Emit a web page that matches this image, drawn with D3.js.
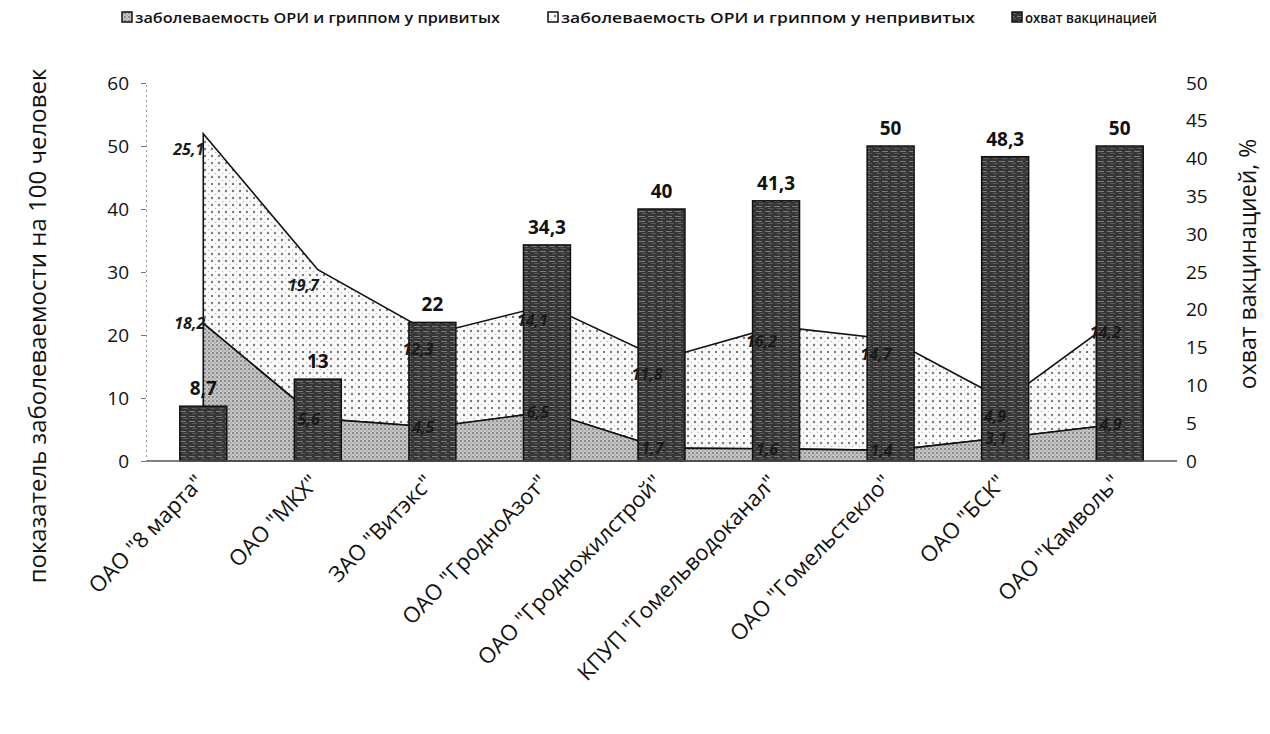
<!DOCTYPE html>
<html><head><meta charset="utf-8">
<script src="https://cdn.jsdelivr.net/npm/d3@7"></script>
<style>
html,body{margin:0;padding:0;background:#fff;}
svg{display:block;font-family:"Open Sans","Noto Sans",sans-serif;}
</style></head>
<body>
<svg id="chart" width="1270" height="734"></svg>
<script>
const categories = ['ОАО "8 марта"','ОАО "МКХ"','ЗАО "Витэкс"','ОАО "ГродноАзот"','ОАО "Гродножилстрой"','КПУП "Гомельводоканал"','ОАО "Гомельстекло"','ОАО "БСК"','ОАО "Камволь"'];
const vaccinated = [18.2, 5.6, 4.5, 6.5, 1.7, 1.6, 1.4, 3.1, 4.9];
const unvaccinated = [25.1, 19.7, 12.3, 14.1, 11.8, 16.2, 14.7, 4.9, 14.2];
const coverage = [8.7, 13, 22, 34.3, 40, 41.3, 50, 48.3, 50];
const leftTicks = [0, 10, 20, 30, 40, 50, 60];
const rightTicks = [0, 5, 10, 15, 20, 25, 30, 35, 40, 45, 50];
const seriesNames = ["заболеваемость ОРИ и гриппом у привитых","заболеваемость ОРИ и гриппом у непривитых","охват вакцинацией"];
const leftTitle = "показатель заболеваемости на 100 человек";
const rightTitle = "охват вакцинацией, %";

const svg = d3.select("#chart");
const defs = svg.append("defs");

// patterns
const pU = defs.append("pattern").attr("id","pUn").attr("patternUnits","userSpaceOnUse").attr("width",7).attr("height",7);
pU.append("rect").attr("width",7).attr("height",7).attr("fill","#fbfbfb");
pU.append("circle").attr("cx",2).attr("cy",2).attr("r",1.2).attr("fill","#7a7a7a");
pU.append("circle").attr("cx",5.5).attr("cy",5.5).attr("r",0.8).attr("fill","#bdbdbd");

const pV = defs.append("pattern").attr("id","pVac").attr("patternUnits","userSpaceOnUse").attr("width",4).attr("height",4);
pV.append("rect").attr("width",4).attr("height",4).attr("fill","#c6c6c6");
pV.append("circle").attr("cx",1).attr("cy",1).attr("r",1).attr("fill","#7a7a7a");
pV.append("circle").attr("cx",3).attr("cy",3).attr("r",0.8).attr("fill","#999");

const pB = defs.append("pattern").attr("id","pBar").attr("patternUnits","userSpaceOnUse").attr("width",9).attr("height",5);
pB.append("rect").attr("width",9).attr("height",5).attr("fill","#363636");
pB.append("rect").attr("y",1).attr("width",6).attr("height",1).attr("fill","#7a7a7a");
pB.append("rect").attr("x",3).attr("y",3).attr("width",5).attr("height",1).attr("fill","#5a5a5a");

const x = d3.scaleBand().domain(categories).range([146, 1177]).paddingInner(0.59).paddingOuter(0.295);
const cx = d => x(d) + x.bandwidth()/2;
const yL = d3.scaleLinear().domain([0, 60]).range([461, 83]);
const yR = d3.scaleLinear().domain([0, 50]).range([461, 83]);

const data = categories.map((c,i)=>({c, v: vaccinated[i], u: unvaccinated[i], b: coverage[i]}));
const fmt = v => String(v).replace(".", ",");

// stacked areas (right axis)
const areaV = d3.area().x(d=>cx(d.c)).y0(yR(0)).y1(d=>yR(d.v));
const areaU = d3.area().x(d=>cx(d.c)).y0(d=>yR(d.v)).y1(d=>yR(d.v + d.u));
svg.append("path").datum(data).attr("d", areaU).attr("fill","url(#pUn)").attr("stroke","#111").attr("stroke-width",1.6);
svg.append("path").datum(data).attr("d", areaV).attr("fill","url(#pVac)").attr("stroke","#111").attr("stroke-width",1.6);

// bars (left axis)
svg.append("g").selectAll("rect").data(data).join("rect")
  .attr("x",d=>x(d.c)).attr("width",x.bandwidth())
  .attr("y",d=>yL(d.b)).attr("height",d=>yL(0)-yL(d.b))
  .attr("fill","url(#pBar)").attr("stroke","#111").attr("stroke-width",1.5);
svg.append("g").attr("font-size",19).attr("font-weight",700).attr("fill","#111").attr("text-anchor","middle")
  .selectAll("text").data(data).join("text")
  .attr("x",d=>cx(d.c)).attr("y",d=>yL(d.b)-11).text(d=>fmt(d.b));

// area labels (drawn over bars)
const lab = svg.append("g").attr("font-size",16).attr("font-style","italic").attr("font-weight",700).attr("fill","#1a1a1a").attr("text-anchor","end");
lab.selectAll(".lu").data(data).join("text").attr("x",d=>cx(d.c)+1).attr("y",d=>yR(d.v+d.u)+21).text(d=>fmt(d.u));
lab.selectAll(".lv").data(data).join("text").attr("x",d=>cx(d.c)+2).attr("y",d=>yR(d.v)+6).text(d=>fmt(d.v));

// x axis
svg.append("line").attr("x1",146).attr("x2",1177).attr("y1",yL(0)).attr("y2",yL(0)).attr("stroke","#555").attr("stroke-width",1.5);
svg.append("g").attr("font-size",22).attr("fill","#111").attr("text-anchor","end")
  .selectAll("text").data(categories).join("text")
  .attr("transform",d=>`translate(${cx(d)+2},${484}) rotate(-46)`).text(d=>d);

// left axis
const gl = svg.append("g").attr("transform","translate(146,0)")
  .call(d3.axisLeft(yL).tickValues(leftTicks).tickSize(5).tickPadding(12));
gl.select(".domain").attr("stroke","#999").attr("stroke-dasharray","2,3");
gl.selectAll(".tick line").attr("stroke","#777");
gl.selectAll("text").attr("font-size",19).attr("fill","#111").attr("font-family","Open Sans");

// right axis
const gr = svg.append("g").attr("transform","translate(1177,0)")
  .call(d3.axisRight(yR).tickValues(rightTicks).tickSize(0).tickPadding(9));
gr.select(".domain").attr("stroke","none");
gr.selectAll("text").attr("font-size",19).attr("fill","#111").attr("font-family","Open Sans");

// titles
svg.append("text").attr("transform","translate(46,326) rotate(-90)").attr("text-anchor","middle")
  .attr("font-size",24).attr("fill","#111").text(leftTitle);
svg.append("text").attr("transform","translate(1256,264) rotate(-90)").attr("text-anchor","middle")
  .attr("font-size",23).attr("fill","#111").text(rightTitle);

// legend
const legX = [122, 548, 1012];
const legW = [378, 427, 145];
const legFill = ["url(#pVac)","url(#pUn)","url(#pBar)"];
const lg = svg.append("g");
seriesNames.forEach((n,i)=>{
  lg.append("rect").attr("x",legX[i]).attr("y",12).attr("width",10).attr("height",10)
    .attr("fill",legFill[i]).attr("stroke","#111").attr("stroke-width",1.5);
  lg.append("text").attr("x",legX[i]+13).attr("y",23).attr("font-size",15).attr("font-weight",600)
    .attr("fill","#111").attr("textLength",legW[i]-13).attr("lengthAdjust","spacingAndGlyphs").text(n);
});
</script>
</body></html>
